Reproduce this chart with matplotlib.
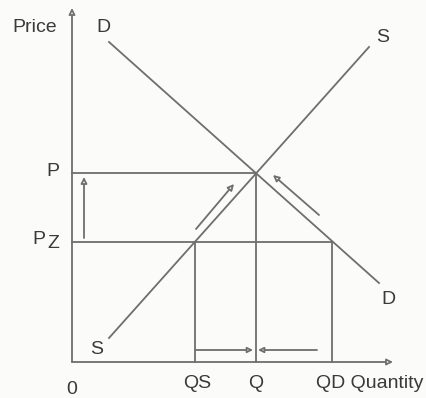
import matplotlib.pyplot as plt

# curve end points (quantity, price), origin at 0,0
demand_q = [37, 307]
demand_p = [320, 79]
supply_q = [37, 297]
supply_p = [24, 315]

# key levels
Q_eq, P_eq = 184, 189
P_z = 120
Q_s, Q_d = 123, 260

grey = "#6e6e6e"
txt = "#3a3a3a"
lw = 1.3

fig = plt.figure(figsize=(4.26, 3.98), dpi=100)
fig.patch.set_facecolor("#fbfbf9")
ax = fig.add_axes([0, 0, 1, 1])
ax.set_xlim(-72, 354)
ax.set_ylim(-36, 362)
ax.axis("off")


def arrow(x0, y0, x1, y1, ms=9):
    ax.annotate("", xy=(x1, y1), xytext=(x0, y0),
                arrowprops=dict(arrowstyle="-|>", color=grey, fc="white",
                                lw=lw, mutation_scale=ms,
                                shrinkA=0, shrinkB=0))


# axes
arrow(0, 0, 0, 354)
arrow(0, 0, 321, 0)

# curves
ax.plot(demand_q, demand_p, color=grey, lw=lw)
ax.plot(supply_q, supply_p, color=grey, lw=lw)

# guide lines
ax.plot([0, Q_eq], [P_eq, P_eq], color=grey, lw=lw)
ax.plot([Q_eq, Q_eq], [0, P_eq], color=grey, lw=lw)
ax.plot([0, Q_d], [P_z, P_z], color=grey, lw=lw)
ax.plot([Q_s, Q_s], [0, P_z], color=grey, lw=lw)
ax.plot([Q_d, Q_d], [0, P_z], color=grey, lw=lw)

# movement arrows
arrow(12, 124, 12, 185, ms=9)
arrow(124, 133, 162, 178, ms=9)
arrow(247, 147, 201, 187, ms=9)
arrow(124, 12, 181, 12, ms=8)
arrow(245, 12, 186, 12, ms=8)

fs = 14
font = "Liberation Sans"
kw = dict(color=txt, fontsize=fs, family=font, ha="center", va="center")
ax.text(-37, 334, "Price", **kw)
ax.text(31, 334, "D", **kw)
ax.text(311, 324, "S", **kw)
ax.text(-19, 191, "P", **kw)
ax.text(-33, 122, "P", **kw)
ax.text(-19, 118, "Z", **kw)
ax.text(25, 13, "S", **kw)
ax.text(316, 62, "D", **kw)
ax.text(0, -27, "0", **kw)
ax.text(Q_s + 2, -21, "QS", **kw)
ax.text(Q_eq, -21, "Q", **kw)
ax.text(298, -21, "QD Quantity", **kw)

fig.savefig("out.png", dpi=100, facecolor=fig.get_facecolor())
